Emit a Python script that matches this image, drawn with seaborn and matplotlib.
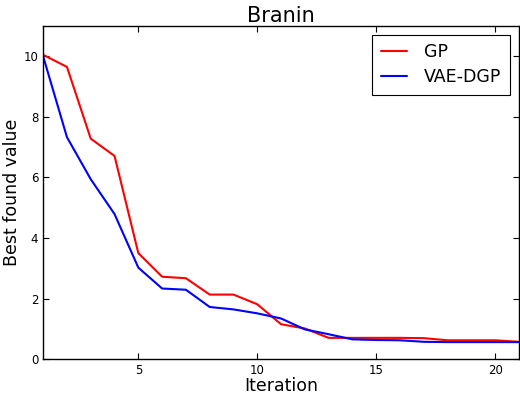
import numpy as np
import pandas as pd
import seaborn as sns
import matplotlib
matplotlib.use('Agg')
import matplotlib.pyplot as plt

# values
iterations = list(range(1, 22))
gp = [10.05, 9.65, 7.28, 6.71, 3.50, 2.72, 2.67, 2.13, 2.13, 1.81, 1.15,
      1.01, 0.70, 0.70, 0.70, 0.70, 0.69, 0.62, 0.62, 0.62, 0.57]
vae_dgp = [10.0, 7.33, 5.94, 4.79, 3.02, 2.33, 2.29, 1.72, 1.64, 1.51, 1.34,
           0.98, 0.82, 0.65, 0.63, 0.62, 0.57, 0.56, 0.56, 0.56, 0.56]
methods = ['GP', 'VAE-DGP']
colors = ['red', 'blue']

df = pd.concat([
    pd.DataFrame({'Iteration': iterations, 'value': gp, 'method': 'GP'}),
    pd.DataFrame({'Iteration': iterations, 'value': vae_dgp, 'method': 'VAE-DGP'}),
])

sns.set_style('ticks')
plt.rcParams['font.family'] = ['DejaVu Sans']
plt.rcParams['text.color'] = 'black'
plt.rcParams['axes.labelcolor'] = 'black'
plt.rcParams['xtick.color'] = 'black'
plt.rcParams['ytick.color'] = 'black'

fig = plt.figure(figsize=(5.2, 3.95), dpi=100)
ax = fig.add_axes([0.083, 0.091, 0.915, 0.843])

sns.lineplot(data=df, x='Iteration', y='value', hue='method',
             hue_order=methods, palette=colors, linewidth=1.5, ax=ax)

ax.set_xlim(1, 21)
ax.set_ylim(0, 11)
ax.set_xticks([5, 10, 15, 20])
ax.set_yticks([0, 2, 4, 6, 8, 10])
ax.tick_params(direction='in', top=True, right=True, labelsize=8.5,
               length=4, width=0.8, colors='black')
for s in ax.spines.values():
    s.set_color('black')
    s.set_linewidth(1)

ax.set_title('Branin', fontsize=15, pad=3, color='black')
ax.set_xlabel('Iteration', fontsize=12.5, labelpad=0)
ax.set_ylabel('Best found value', fontsize=12.5, labelpad=2)

leg = ax.legend(loc='upper right', fontsize=12.5, fancybox=False,
                framealpha=1, edgecolor='black', borderaxespad=0.5,
                handlelength=1.5, handletextpad=1.0, borderpad=0.5,
                labelspacing=0.4)
leg.get_frame().set_linewidth(0.8)

fig.savefig('out.png', dpi=100)
